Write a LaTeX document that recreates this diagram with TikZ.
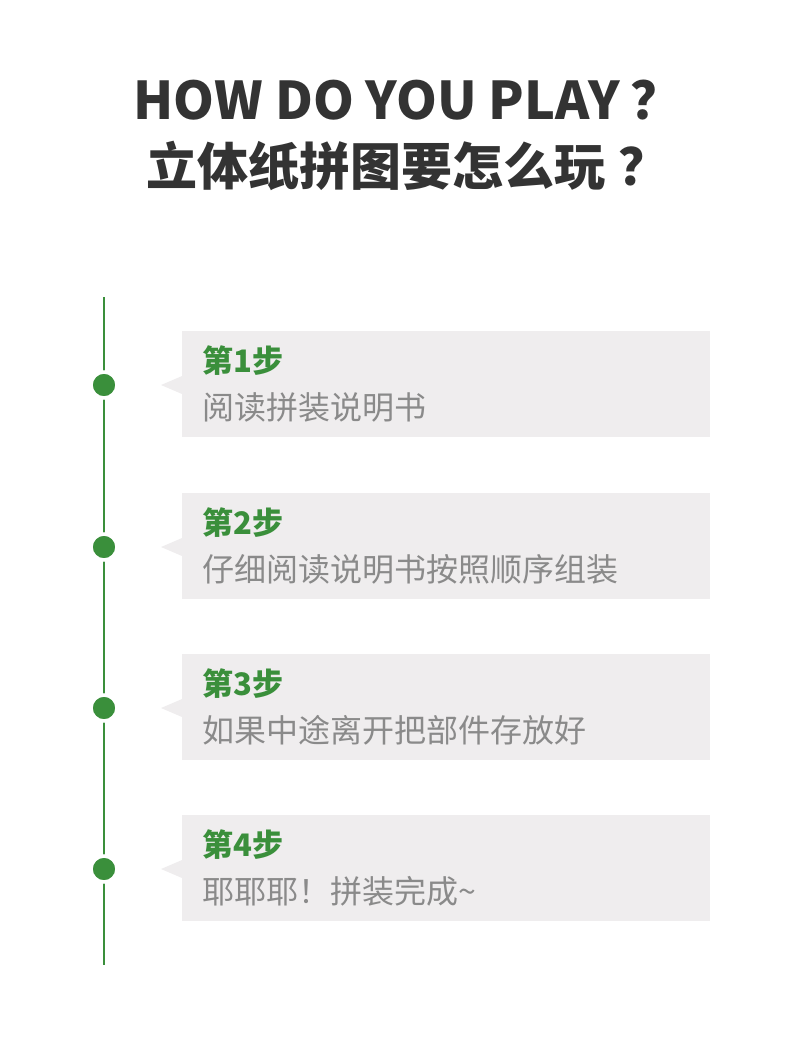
\documentclass[tikz,border=0pt]{standalone}
\usepackage{fontspec}
\setmainfont{Noto Sans CJK SC}
\usepackage{tikz}
\definecolor{StepGreen}{HTML}{3A8F3B}
\definecolor{TitleDark}{HTML}{333333}
\definecolor{BodyGray}{HTML}{8A8A8A}
\definecolor{BoxGray}{HTML}{EFEDEE}

\begin{document}
\begin{tikzpicture}[x=1pt,y=-1pt, every node/.style={inner sep=0pt}]
  \useasboundingbox (0,0) rectangle (790,1050);
  \node[font=\bfseries\fontsize{52}{52}\selectfont, color=TitleDark] (title) at (408,100) {HOW DO YOU PLAY\hspace{0.2em}？};
  \node[font=\bfseries\fontsize{51}{51}\selectfont, color=TitleDark] (subtitle) at (408,166) {立体纸拼图要怎么玩\hspace{0.25em}？};
  \coordinate (top) at (104,297);
  \coordinate (bottom) at (104,965);
  \draw[StepGreen, line width=2pt] (top) -- (bottom);
  \foreach \i/\yc/\txt in {1/385/阅读拼装说明书, 2/547/仔细阅读说明书按照顺序组装, 3/708/如果中途离开把部件存放好, 4/869/耶耶耶！拼装完成\textasciitilde} {
    \fill[BoxGray] (182,\yc-54) rectangle (710,\yc+52);
    \fill[BoxGray] (182,\yc-9) -- (161,\yc) -- (182,\yc+9) -- cycle;
    \node[circle, fill=StepGreen, draw=white, line width=3.5pt, minimum size=26pt] (dot\i) at (104,\yc) {};
    \node[anchor=west, font=\bfseries\fontsize{31}{31}\selectfont, color=StepGreen] (head\i) at (202,\yc-24) {第\i 步};
    \node[anchor=west, font=\fontsize{32}{32}\selectfont, color=BodyGray] (body\i) at (202,\yc+22) {\txt};
  }
\end{tikzpicture}
\end{document}
